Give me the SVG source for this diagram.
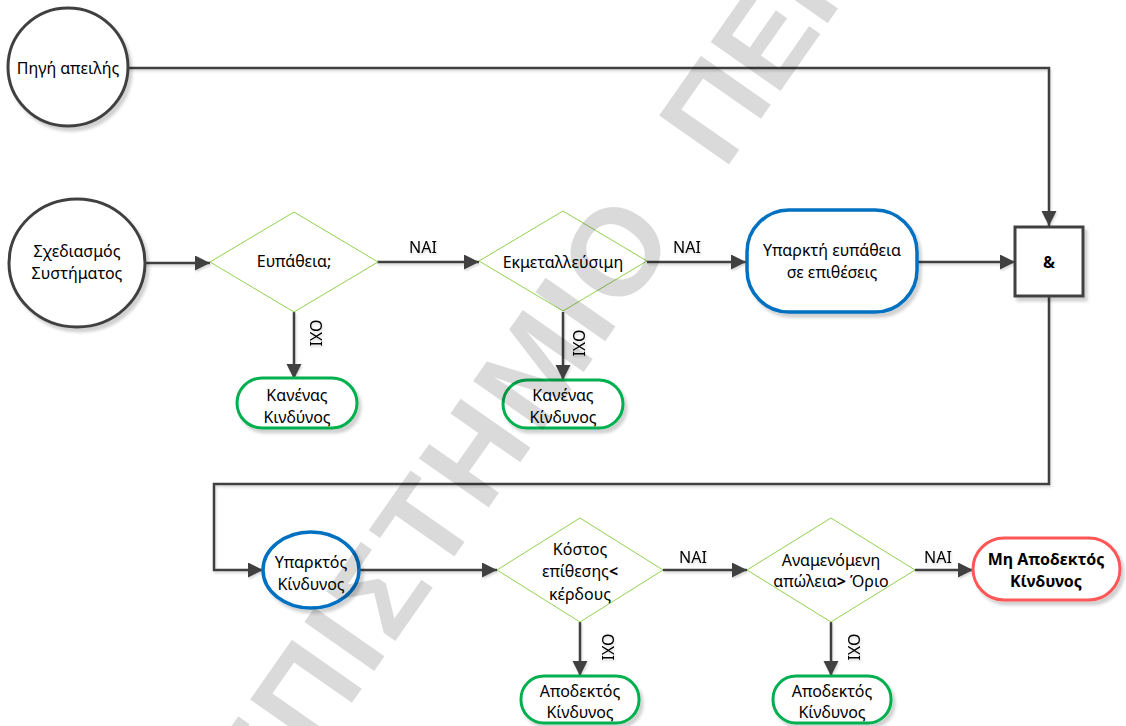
<svg xmlns="http://www.w3.org/2000/svg" width="1126" height="726" viewBox="0 0 1126 726">
  <style>
    .lbl { font-family: "Noto Sans", "Open Sans", "DejaVu Sans", sans-serif; font-size: 16px; fill: #000; text-anchor: middle; }
    .bold { font-weight: bold; }
    .dark { fill: #fff; stroke: #404040; stroke-width: 3; }
    .blue { fill: #fff; stroke: #0070c0; stroke-width: 3.5; }
    .green { fill: #fff; stroke: #00b050; stroke-width: 3; }
    .red { fill: #fff; stroke: #ff5757; stroke-width: 3; }
    .dia { fill: #fff; stroke: #92d050; stroke-width: 1; }
    .wire { fill: none; stroke: #404040; stroke-width: 2.5; }
    .arrow { marker-end: url(#head); }
    .mark { font-family: "Liberation Sans", Arial, sans-serif; font-weight: bold; font-size: 124px; fill: #000; fill-opacity: 0.145; }
  </style>
  <defs>
    <marker id="head" markerUnits="userSpaceOnUse" markerWidth="16" markerHeight="16" refX="15" refY="7.5" orient="auto">
      <path d="M0,0 L15,7.5 L0,15 z" fill="#404040"/>
    </marker>
    <filter id="shadow" x="-20%" y="-20%" width="150%" height="150%">
      <feDropShadow dx="3" dy="4" stdDeviation="1.5" flood-color="#000" flood-opacity="0.18"/>
    </filter>
    <filter id="lineShadow" x="-5%" y="-5%" width="110%" height="110%">
      <feDropShadow dx="1" dy="2" stdDeviation="0.8" flood-color="#000" flood-opacity="0.15"/>
    </filter>
  </defs>

  <rect width="1126" height="726" fill="#fff"/>

  <!-- connectors -->
  <g id="connectors" filter="url(#lineShadow)">
    <path class="wire arrow" d="M128,68 H1049 V226"/>
    <path class="wire arrow" d="M145,263 H210"/>
    <path class="wire arrow" d="M377,262 H479"/>
    <path class="wire arrow" d="M647,262 H746"/>
    <path class="wire arrow" d="M917,262 H1015"/>
    <path class="wire arrow" d="M1049,296 V484 H214 V570 H263"/>
    <path class="wire arrow" d="M294,312 V379"/>
    <path class="wire arrow" d="M563,312 V380"/>
    <path class="wire arrow" d="M360,570 H497"/>
    <path class="wire arrow" d="M663,570 H747"/>
    <path class="wire arrow" d="M915,570 H973"/>
    <path class="wire arrow" d="M580,622 V676"/>
    <path class="wire arrow" d="M831,622 V676"/>
    <text class="lbl" x="423" y="253">ΝΑΙ</text>
    <text class="lbl" x="687" y="253">ΝΑΙ</text>
    <text class="lbl" x="693" y="563">ΝΑΙ</text>
    <text class="lbl" x="938" y="563">ΝΑΙ</text>
    <text class="lbl" transform="translate(310,333) rotate(90)" y="0">ΟΧΙ</text>
    <text class="lbl" transform="translate(573,343) rotate(90)" y="0">ΟΧΙ</text>
    <text class="lbl" transform="translate(602,647) rotate(90)" y="0">ΟΧΙ</text>
    <text class="lbl" transform="translate(848,647) rotate(90)" y="0">ΟΧΙ</text>
  </g>

  <!-- nodes -->
  <g id="threat-source">
    <ellipse class="dark" cx="68" cy="67" rx="60" ry="59" filter="url(#shadow)"/>
    <text class="lbl" x="68" y="74">Πηγή απειλής</text>
  </g>
  <g id="system-design">
    <ellipse class="dark" cx="77" cy="263" rx="68" ry="64" filter="url(#shadow)"/>
    <text class="lbl" x="77" y="257">Σχεδιασμός</text>
    <text class="lbl" x="77" y="279">Συστήματος</text>
  </g>
  <g id="vulnerability">
    <polygon class="dia" points="294,212 378,262 294,312 210,262"/>
    <text class="lbl" x="294" y="267">Ευπάθεια;</text>
  </g>
  <g id="exploitable">
    <polygon class="dia" points="563,211 647,261 563,311 479,261"/>
    <text class="lbl" x="563" y="268">Εκμεταλλεύσιμη</text>
  </g>
  <g id="existing-vulnerability">
    <rect class="blue" x="747" y="210" width="170" height="102" rx="42" filter="url(#shadow)"/>
    <text class="lbl" x="832" y="256">Υπαρκτή ευπάθεια</text>
    <text class="lbl" x="832" y="278">σε επιθέσεις</text>
  </g>
  <g id="and-gate">
    <rect class="dark" x="1015" y="227" width="68" height="69" filter="url(#shadow)"/>
    <text class="lbl bold" x="1049" y="268">&amp;</text>
  </g>
  <g id="no-risk-1">
    <rect class="green" x="237" y="378" width="120" height="50" rx="25" filter="url(#shadow)"/>
    <text class="lbl" x="297" y="401">Κανένας</text>
    <text class="lbl" x="297" y="423">Κινδύνος</text>
  </g>
  <g id="no-risk-2">
    <rect class="green" x="503" y="380" width="120" height="48" rx="24" filter="url(#shadow)"/>
    <text class="lbl" x="563" y="401">Κανένας</text>
    <text class="lbl" x="563" y="423">Κίνδυνος</text>
  </g>
  <g id="existing-risk">
    <ellipse class="blue" cx="311" cy="570" rx="48" ry="38" filter="url(#shadow)"/>
    <text class="lbl" x="311" y="568">Υπαρκτός</text>
    <text class="lbl" x="311" y="590">Κίνδυνος</text>
  </g>
  <g id="cost-benefit">
    <polygon class="dia" points="580,518 663,570 580,622 497,570"/>
    <text class="lbl" x="580" y="555">Κόστος</text>
    <text class="lbl" x="580" y="577">επίθεσης<tspan class="bold">&lt;</tspan></text>
    <text class="lbl" x="580" y="600">κέρδους</text>
  </g>
  <g id="expected-loss">
    <polygon class="dia" points="831,518 915,570 831,622 747,570"/>
    <text class="lbl" x="831" y="566">Αναμενόμενη</text>
    <text class="lbl" x="831" y="587">απώλεια<tspan class="bold">&gt;</tspan> Όριο</text>
  </g>
  <g id="unacceptable-risk">
    <rect class="red" x="973" y="538" width="147" height="62" rx="31" filter="url(#shadow)"/>
    <text class="lbl bold" x="1046" y="565">Μη Αποδεκτός</text>
    <text class="lbl bold" x="1046" y="587">Κίνδυνος</text>
  </g>
  <g id="acceptable-risk-1">
    <rect class="green" x="521" y="676" width="118" height="47" rx="23" filter="url(#shadow)"/>
    <text class="lbl" x="580" y="697">Αποδεκτός</text>
    <text class="lbl" x="580" y="718">Κίνδυνος</text>
  </g>
  <g id="acceptable-risk-2">
    <rect class="green" x="773" y="676" width="118" height="47" rx="23" filter="url(#shadow)"/>
    <text class="lbl" x="832" y="697">Αποδεκτός</text>
    <text class="lbl" x="832" y="718">Κίνδυνος</text>
  </g>

  <!-- watermark -->
  <g id="watermark" transform="translate(730,163) rotate(-55)">
    <text class="mark" x="-85" y="0" text-anchor="end" letter-spacing="5">ΠΑΝΕΠΙΣΤΗΜΙΟ</text>
    <text class="mark" x="-10" y="0">ΠΕΙΡΑΙΩΣ</text>
  </g>
</svg>
